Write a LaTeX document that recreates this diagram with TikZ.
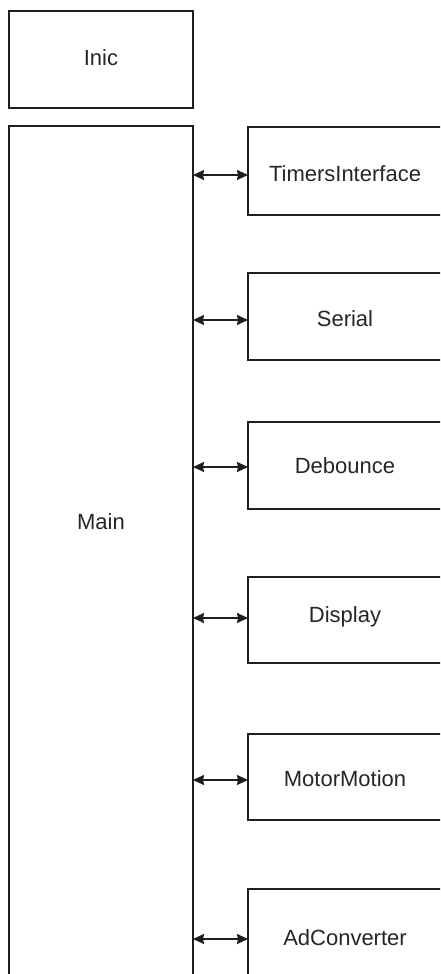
\documentclass[tikz,border=0pt]{standalone}
\usepackage{fontspec}
\setmainfont{Liberation Sans}
\usetikzlibrary{arrows.meta}
\definecolor{linec}{HTML}{1E1E1E}
\definecolor{textc}{HTML}{262626}
\begin{document}
\begin{tikzpicture}[x=1pt,y=-1pt,
  blk/.style={draw=linec,line width=1.5pt,fill=white},
  lbl/.style={text=textc,font=\fontsize{22}{26}\selectfont,inner sep=0pt,anchor=center},
  tip/.tip={Stealth[length=11pt,width=10pt,inset=1pt]},
  link/.style={draw=linec,line width=1.5pt,tip-tip}]
\useasboundingbox (0,0) rectangle (440,974);
\begin{scope}
\clip (0,0) rectangle (440,974);
% Inic
\draw[blk] (9,11) rectangle (193,108);
\node[lbl] (inic) at (101,58) {Inic};
% Main
\draw[blk] (9,126) rectangle (193,990);
\node[lbl] (main) at (101,522) {Main};
% right boxes
\foreach \nm/\t/\b/\ay/\txt in {ti/127/215/175/TimersInterface, se/273/360/320/Serial, de/422/509/467/Debounce, di/577/663/618/Display, mm/734/820/780/MotorMotion, ad/889/990/939/AdConverter}{
  \draw[blk] (248,\t) rectangle (443,\b);
  \coordinate (\nm L) at (248,\ay);
  \coordinate (\nm M) at (193,\ay);
  \node[lbl] (\nm) at (345,\ay-1) {\txt};
  \draw[link] (\nm M) -- (\nm L);
}
\end{scope}
\end{tikzpicture}
\end{document}
